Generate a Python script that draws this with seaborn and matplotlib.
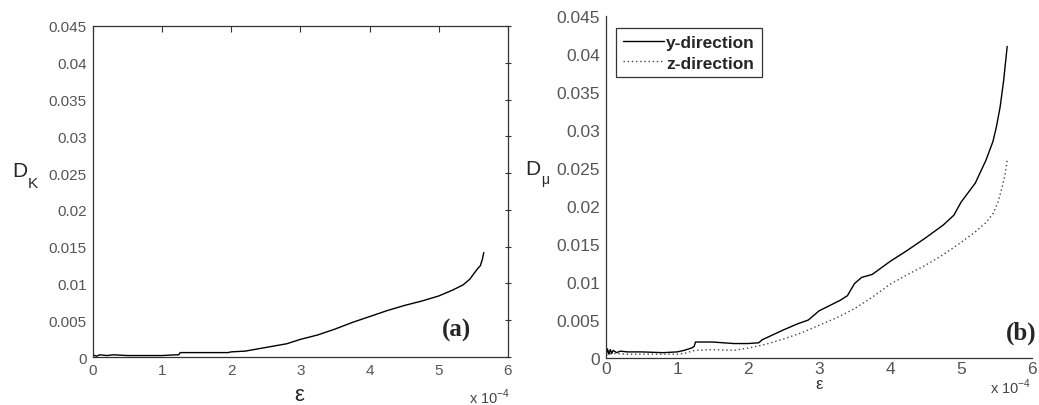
import matplotlib
matplotlib.use("Agg")
import matplotlib.pyplot as plt
import numpy as np
import pandas as pd
import seaborn as sns

# strain values are given in units of 1e-4
eps_k = [0, 0.05, 0.1, 0.2, 0.3, 0.5, 1.0, 1.2, 1.24, 1.26, 1.6, 1.95, 2.0, 2.2,
         2.5, 2.8, 3.0, 3.25, 3.5, 3.75, 4.0, 4.25, 4.5, 4.75, 5.0, 5.2, 5.35,
         5.45, 5.52, 5.56, 5.6, 5.63, 5.65]
d_k = [0.0003, 0.0001, 0.0003, 0.0002, 0.0003, 0.0002, 0.0002, 0.0003, 0.0003,
       0.0006, 0.0006, 0.0006, 0.0007, 0.0008, 0.0013, 0.0018, 0.0024, 0.0030,
       0.0038, 0.0047, 0.0055, 0.0063, 0.0070, 0.0076, 0.0083, 0.0091, 0.0098,
       0.0106, 0.0115, 0.0120, 0.0124, 0.0133, 0.0142]

eps_y = [0, 0.02, 0.04, 0.06, 0.08, 0.1, 0.15, 0.2, 0.3, 0.5, 0.8, 1.0, 1.1, 1.2,
         1.24, 1.26, 1.5, 1.8, 2.0, 2.15, 2.2, 2.5, 2.7, 2.85, 3.0, 3.3, 3.4, 3.5,
         3.6, 3.75, 4.0, 4.25, 4.5, 4.75, 4.9, 5.0, 5.2, 5.35, 5.45, 5.5, 5.55,
         5.6, 5.65]
d_mu_y = [0.0003, 0.0012, 0.0005, 0.0011, 0.0006, 0.0010, 0.0007, 0.0009, 0.0008,
          0.0008, 0.0007, 0.0008, 0.0010, 0.0013, 0.0015, 0.0021, 0.0021, 0.0019,
          0.0019, 0.0020, 0.0024, 0.0037, 0.0045, 0.0050, 0.0062, 0.0076, 0.0082,
          0.0098, 0.0106, 0.0110, 0.0127, 0.0142, 0.0158, 0.0175, 0.0188, 0.0205,
          0.0230, 0.0260, 0.0285, 0.0305, 0.0330, 0.0365, 0.0410]

eps_z = [0, 0.1, 0.3, 0.6, 1.0, 1.1, 1.25, 1.5, 1.8, 2.0, 2.25, 2.5, 2.75, 3.0,
         3.25, 3.5, 3.75, 4.0, 4.25, 4.5, 4.75, 5.0, 5.2, 5.35, 5.45, 5.52, 5.58,
         5.62, 5.65]
d_mu_z = [0.0004, 0.0006, 0.0005, 0.0005, 0.0005, 0.0006, 0.0010, 0.0011, 0.0010,
          0.0013, 0.0018, 0.0025, 0.0033, 0.0043, 0.0053, 0.0065, 0.0080, 0.0097,
          0.0110, 0.0122, 0.0136, 0.0152, 0.0166, 0.0178, 0.0190, 0.0205, 0.0225,
          0.0242, 0.0260]

series_names = ["y-direction", "z-direction"]
x_ticks = [0, 1, 2, 3, 4, 5, 6]
y_ticks = [0, 0.005, 0.01, 0.015, 0.02, 0.025, 0.03, 0.035, 0.04, 0.045]
y_ticklabels = ["0", "0.005", "0.01", "0.015", "0.02", "0.025", "0.03", "0.035",
                "0.04", "0.045"]

sns.set_style("white")
plt.rcParams["font.family"] = ["Liberation Sans", "DejaVu Sans"]
plt.rcParams["mathtext.fontset"] = "custom"
plt.rcParams["mathtext.rm"] = "Liberation Sans"

fig = plt.figure(figsize=(10.39, 4.06), dpi=100)
ax1 = fig.add_axes([0.0895, 0.1182, 0.3994, 0.8153])
ax2 = fig.add_axes([0.5833, 0.1158, 0.41, 0.8424])

tick_gray = "#555555"

# panel (a)
df_k = pd.DataFrame({"eps": eps_k, "D": d_k})
sns.lineplot(data=df_k, x="eps", y="D", ax=ax1, color="black", linewidth=1.0)
ax1.set_xlim(0, 6)
ax1.set_ylim(0, 0.045)
ax1.set_xticks(x_ticks)
ax1.set_yticks(y_ticks)
ax1.set_yticklabels(y_ticklabels)
ax1.tick_params(axis="x", direction="in", length=4, top=True, labelsize=11,
                labelcolor=tick_gray, color="#333333", pad=4)
ax1.tick_params(axis="y", direction="inout", length=5, right=True, labelsize=11,
                labelcolor=tick_gray, color="#333333", pad=2)
for s in ax1.spines.values():
    s.set_color("#333333")
    s.set_linewidth(0.9)
ax1.set_xlabel("")
ax1.set_ylabel("")
# y label D with a low subscript K
fig.text(0.0115, 0.564, "D", fontsize=15, ha="left", va="baseline")
fig.text(0.027, 0.537, "K", fontsize=11, ha="left", va="baseline")
fig.text(0.288, 0.025, "ε", fontsize=16, ha="center", va="center")
fig.text(0.451, 0.022, r"x 10$^{-4}$", fontsize=10.5, ha="left", va="center",
         color="#444444")
ax1.text(5.25, 0.0038, "(a)", fontsize=18, fontweight="bold",
         family="Liberation Serif", ha="center", va="center")

# panel (b)
df_mu = pd.concat([
    pd.DataFrame({"eps": eps_y, "D": d_mu_y, "dir": series_names[0]}),
    pd.DataFrame({"eps": eps_z, "D": d_mu_z, "dir": series_names[1]}),
])
sns.lineplot(data=df_mu, x="eps", y="D", hue="dir", style="dir", ax=ax2,
             palette={series_names[0]: "black", series_names[1]: "#444444"},
             dashes={series_names[0]: "", series_names[1]: (1, 2)},
             linewidth=1.0)
ax2.set_xlim(0, 6)
ax2.set_ylim(0, 0.045)
ax2.set_xticks(x_ticks)
ax2.set_yticks(y_ticks)
ax2.set_yticklabels(y_ticklabels)
ax2.tick_params(axis="x", direction="in", length=4, labelsize=12.5,
                labelcolor=tick_gray, color="#333333", pad=2)
ax2.tick_params(axis="y", direction="inout", length=5, labelsize=12.5,
                labelcolor=tick_gray, color="#333333", pad=2)
ax2.spines["top"].set_visible(False)
ax2.spines["right"].set_visible(False)
for s in ["left", "bottom"]:
    ax2.spines[s].set_color("#333333")
    ax2.spines[s].set_linewidth(0.9)
ax2.set_xlabel("")
ax2.set_ylabel("")
fig.text(0.5053, 0.569, "D", fontsize=15, ha="left", va="baseline")
fig.text(0.5207, 0.547, "μ", fontsize=10, ha="left", va="baseline")
fig.text(0.788, 0.052, "ε", fontsize=12, ha="center", va="center", color="#333333")
fig.text(0.953, 0.045, r"x 10$^{-4}$", fontsize=10.5, ha="left", va="center",
         color="#444444")
fig.text(0.998, 0.18, "(b)", fontsize=18, fontweight="bold",
         family="Liberation Serif", ha="right", va="center")

leg = ax2.legend(loc="upper left", bbox_to_anchor=(0.002, 0.99), frameon=True,
                 fancybox=False, edgecolor="black", handlelength=2.4,
                 handletextpad=0.1, borderpad=0.4, labelspacing=0.3,
                 prop={"weight": "bold", "size": 12.5})
leg.get_frame().set_linewidth(0.9)
for line in leg.get_lines():
    line.set_linewidth(1.0)

fig.savefig("out.png", dpi=100)
